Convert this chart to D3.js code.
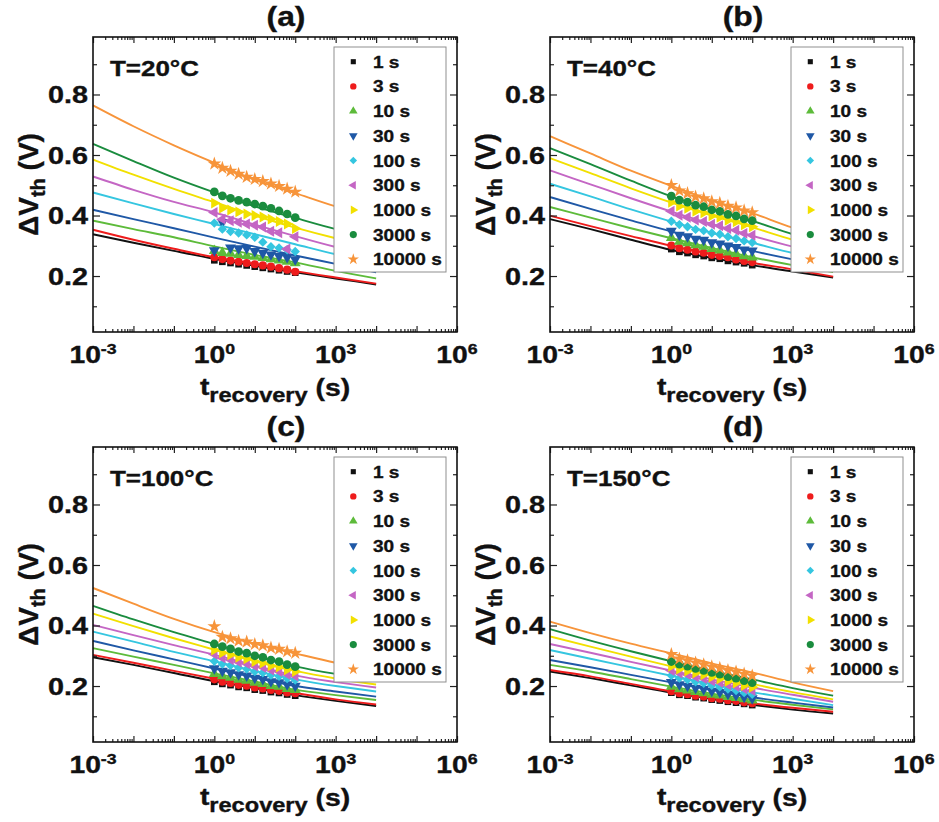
<!DOCTYPE html>
<html>
<head>
<meta charset="utf-8">
<script src="https://cdn.jsdelivr.net/npm/d3@7"></script>
<style>
  body { margin: 0; background: #ffffff; }
  svg { display: block; }
  text { font-family: "Liberation Sans", Arial, sans-serif; font-weight: bold; fill: #111; stroke: #111; stroke-width: 0.35; }
</style>
</head>
<body>
<svg id="chart" width="939" height="822"></svg>
<script>
// ---- data -------------------------------------------------------------
const stressLabels = ["1 s", "3 s", "10 s", "30 s", "100 s", "300 s", "1000 s", "3000 s", "10000 s"];
const panelTags = ["(a)", "(b)", "(c)", "(d)"];
const panelTemps = ["T=20°C", "T=40°C", "T=100°C", "T=150°C"];
const xTickExps = [-3, 0, 3, 6];
const yTickValues = [0.2, 0.4, 0.6, 0.8];

// recovery times of the fitted curves and of the measured points (s)
const fitTimes = [1e-3, 1e-2, 1e-1, 1, 1e1, 1e2, 1e3, 1e4];
const measTimes = [1, 1.58, 2.51, 3.98, 6.31, 10, 15.8, 25.1, 39.8, 63.1, 100];

// T = 20 °C
const fit20 = [
  [0.338, 0.310, 0.283, 0.257, 0.234, 0.212, 0.192, 0.172],
  [0.353, 0.320, 0.290, 0.262, 0.240, 0.216, 0.195, 0.175],
  [0.383, 0.355, 0.328, 0.298, 0.270, 0.245, 0.217, 0.192],
  [0.419, 0.388, 0.358, 0.327, 0.297, 0.268, 0.240, 0.212],
  [0.476, 0.440, 0.405, 0.372, 0.338, 0.305, 0.272, 0.245],
  [0.529, 0.485, 0.445, 0.410, 0.370, 0.332, 0.296, 0.265],
  [0.585, 0.535, 0.488, 0.444, 0.400, 0.360, 0.325, 0.295],
  [0.637, 0.580, 0.525, 0.476, 0.430, 0.392, 0.355, 0.325],
  [0.764, 0.695, 0.632, 0.574, 0.518, 0.474, 0.430, 0.395]
];
const meas20 = [
  [0.252, 0.247, 0.243, 0.239, 0.235, 0.231, 0.227, 0.223, 0.219, 0.215, 0.211],
  [0.262, 0.256, 0.251, 0.247, 0.243, 0.239, 0.235, 0.231, 0.226, 0.221, 0.214],
  [0.283, 0.277, 0.274, 0.270, 0.267, 0.264, 0.260, 0.256, 0.252, 0.248, 0.243],
  [0.285, 0.378, 0.294, 0.291, 0.292, 0.282, 0.276, 0.271, 0.266, 0.262, 0.255],
  [0.375, 0.355, 0.347, 0.342, 0.336, 0.328, 0.312, 0.297, 0.293, 0.287, 0.281],
  [0.410, 0.388, 0.383, 0.378, 0.372, 0.368, 0.362, 0.348, 0.343, 0.289, 0.330],
  [0.441, 0.425, 0.418, 0.412, 0.405, 0.400, 0.395, 0.388, 0.380, 0.372, 0.357],
  [0.478, 0.465, 0.457, 0.450, 0.444, 0.438, 0.431, 0.424, 0.415, 0.405, 0.393],
  [0.571, 0.557, 0.547, 0.537, 0.527, 0.520, 0.513, 0.505, 0.497, 0.488, 0.478]
];

// T = 40 °C
const fit40 = [
  [0.388, 0.355, 0.320, 0.286, 0.260, 0.236, 0.215, 0.195],
  [0.399, 0.365, 0.332, 0.300, 0.272, 0.244, 0.222, 0.198],
  [0.428, 0.393, 0.358, 0.325, 0.293, 0.262, 0.236, 0.213],
  [0.461, 0.422, 0.384, 0.347, 0.315, 0.283, 0.255, 0.230],
  [0.505, 0.463, 0.420, 0.380, 0.343, 0.310, 0.276, 0.247],
  [0.549, 0.503, 0.457, 0.413, 0.372, 0.333, 0.297, 0.265],
  [0.590, 0.540, 0.490, 0.443, 0.400, 0.361, 0.320, 0.287],
  [0.623, 0.570, 0.515, 0.463, 0.420, 0.382, 0.338, 0.303],
  [0.662, 0.605, 0.548, 0.498, 0.450, 0.408, 0.360, 0.325]
];
const meas40 = [
  [0.289, 0.280, 0.276, 0.270, 0.266, 0.260, 0.257, 0.250, 0.246, 0.242, 0.236],
  [0.301, 0.292, 0.287, 0.281, 0.277, 0.270, 0.266, 0.262, 0.255, 0.250, 0.246],
  [0.326, 0.314, 0.309, 0.302, 0.297, 0.290, 0.285, 0.278, 0.273, 0.266, 0.262],
  [0.349, 0.336, 0.331, 0.323, 0.319, 0.311, 0.307, 0.300, 0.295, 0.287, 0.284],
  [0.381, 0.370, 0.363, 0.354, 0.350, 0.342, 0.338, 0.330, 0.324, 0.316, 0.311],
  [0.414, 0.401, 0.394, 0.385, 0.380, 0.371, 0.366, 0.357, 0.351, 0.341, 0.335],
  [0.444, 0.431, 0.424, 0.414, 0.409, 0.399, 0.394, 0.384, 0.379, 0.369, 0.363],
  [0.464, 0.451, 0.444, 0.434, 0.429, 0.419, 0.414, 0.404, 0.399, 0.389, 0.383],
  [0.500, 0.482, 0.473, 0.462, 0.456, 0.446, 0.441, 0.431, 0.426, 0.416, 0.410]
];

// T = 100 °C
const fit100 = [
  [0.295, 0.270, 0.243, 0.216, 0.193, 0.170, 0.151, 0.134],
  [0.303, 0.277, 0.250, 0.224, 0.200, 0.177, 0.156, 0.139],
  [0.325, 0.297, 0.270, 0.242, 0.215, 0.188, 0.170, 0.154],
  [0.349, 0.318, 0.288, 0.258, 0.228, 0.200, 0.182, 0.165],
  [0.380, 0.347, 0.313, 0.282, 0.250, 0.222, 0.200, 0.182],
  [0.402, 0.368, 0.335, 0.303, 0.268, 0.235, 0.213, 0.195],
  [0.439, 0.398, 0.358, 0.320, 0.282, 0.250, 0.225, 0.205],
  [0.465, 0.420, 0.378, 0.339, 0.300, 0.265, 0.240, 0.220],
  [0.524, 0.472, 0.422, 0.378, 0.340, 0.308, 0.277, 0.250]
];
const meas100 = [
  [0.214, 0.207, 0.203, 0.197, 0.194, 0.188, 0.185, 0.180, 0.177, 0.172, 0.168],
  [0.222, 0.214, 0.210, 0.204, 0.201, 0.195, 0.192, 0.187, 0.184, 0.179, 0.176],
  [0.240, 0.233, 0.228, 0.221, 0.218, 0.211, 0.207, 0.201, 0.198, 0.191, 0.187],
  [0.258, 0.250, 0.245, 0.238, 0.234, 0.227, 0.223, 0.215, 0.212, 0.205, 0.200],
  [0.282, 0.273, 0.268, 0.260, 0.256, 0.248, 0.244, 0.236, 0.232, 0.225, 0.220],
  [0.305, 0.293, 0.287, 0.279, 0.274, 0.266, 0.262, 0.253, 0.248, 0.239, 0.233],
  [0.319, 0.310, 0.303, 0.295, 0.290, 0.281, 0.276, 0.267, 0.263, 0.254, 0.248],
  [0.339, 0.330, 0.323, 0.314, 0.309, 0.300, 0.295, 0.286, 0.281, 0.271, 0.264],
  [0.397, 0.362, 0.357, 0.349, 0.346, 0.338, 0.334, 0.326, 0.322, 0.314, 0.309]
];

// T = 150 °C
const fit150 = [
  [0.248, 0.226, 0.202, 0.178, 0.157, 0.138, 0.122, 0.109],
  [0.253, 0.232, 0.207, 0.182, 0.162, 0.143, 0.128, 0.115],
  [0.270, 0.248, 0.223, 0.198, 0.175, 0.155, 0.138, 0.123],
  [0.286, 0.262, 0.237, 0.212, 0.187, 0.163, 0.145, 0.129],
  [0.319, 0.290, 0.262, 0.234, 0.206, 0.180, 0.158, 0.137],
  [0.339, 0.310, 0.280, 0.251, 0.222, 0.195, 0.171, 0.148],
  [0.364, 0.330, 0.297, 0.265, 0.235, 0.207, 0.180, 0.156],
  [0.388, 0.350, 0.315, 0.282, 0.250, 0.222, 0.193, 0.168],
  [0.413, 0.375, 0.340, 0.308, 0.275, 0.245, 0.212, 0.183]
];
const meas150 = [
  [0.178, 0.171, 0.168, 0.163, 0.160, 0.155, 0.152, 0.148, 0.145, 0.141, 0.137],
  [0.183, 0.176, 0.173, 0.168, 0.165, 0.160, 0.158, 0.153, 0.151, 0.146, 0.143],
  [0.198, 0.190, 0.186, 0.181, 0.177, 0.172, 0.169, 0.164, 0.161, 0.157, 0.153],
  [0.213, 0.205, 0.200, 0.194, 0.190, 0.184, 0.180, 0.174, 0.170, 0.164, 0.159],
  [0.235, 0.226, 0.221, 0.214, 0.209, 0.202, 0.197, 0.190, 0.185, 0.178, 0.173],
  [0.251, 0.243, 0.238, 0.231, 0.225, 0.217, 0.212, 0.204, 0.199, 0.191, 0.185],
  [0.265, 0.256, 0.250, 0.243, 0.237, 0.230, 0.224, 0.216, 0.210, 0.202, 0.196],
  [0.281, 0.272, 0.266, 0.258, 0.252, 0.245, 0.239, 0.231, 0.226, 0.218, 0.211],
  [0.305, 0.290, 0.284, 0.277, 0.271, 0.264, 0.259, 0.252, 0.247, 0.240, 0.234]
];

const fitSets = [fit20, fit40, fit100, fit150];
const measSets = [meas20, meas40, meas100, meas150];

// ---- styling ----------------------------------------------------------
const seriesColors = ["#111111", "#ee1c1c", "#5dbb3a", "#1f58a6", "#35c6e0",
                      "#c466c4", "#f2e000", "#1a8c3e", "#f7943a"];
const markerShapes = ["square", "circle", "triUp", "triDown", "diamond",
                      "triLeft", "triRight", "circle", "star"];
const plotSizes   = [44, 52, 52, 52, 44, 52, 52, 60, 60];
const legendSizes = [26, 32, 32, 32, 28, 32, 32, 40, 40];

const W = 364, H = 295;
const panelOrigins = [[93, 37], [550, 37], [93, 447], [550, 447]];
const STRETCH = 1.18;

const svg = d3.select("#chart");

function markerPath(shape, size) {
  const tri = d3.symbol(d3.symbolTriangle, size)();
  switch (shape) {
    case "square":  return { d: d3.symbol(d3.symbolSquare, size)(), rot: 0 };
    case "circle":  return { d: d3.symbol(d3.symbolCircle, size)(), rot: 0 };
    case "triUp":   return { d: tri, rot: 0 };
    case "triDown": return { d: tri, rot: 180 };
    case "triLeft": return { d: tri, rot: -90 };
    case "triRight":return { d: tri, rot: 90 };
    case "diamond": return { d: d3.symbol(d3.symbolSquare, size)(), rot: 45 };
    case "star":    return { d: d3.symbol(d3.symbolStar, size)(), rot: 0 };
  }
}

function stretchedText(g, x, y, k) {
  return g.append("text").attr("transform", `translate(${x},${y}) scale(${k},1)`);
}

panelOrigins.forEach(([x0, y0], p) => {
  const g = svg.append("g");
  const x = d3.scaleLog().domain([1e-3, 1e6]).range([x0, x0 + W]);
  const y = d3.scaleLinear().domain([0.015, 0.99]).range([y0 + H, y0]);

  // fitted curves
  const line = d3.line()
    .x(d => x(d[0]))
    .y(d => y(d[1]))
    .curve(d3.curveMonotoneX);
  fitSets[p].forEach((vals, i) => {
    g.append("path")
      .datum(fitTimes.map((t, j) => [t, vals[j]]))
      .attr("d", line)
      .attr("fill", "none")
      .attr("stroke", seriesColors[i])
      .attr("stroke-width", 1.9);
  });

  // measured points
  measSets[p].forEach((vals, i) => {
    const m = markerPath(markerShapes[i], plotSizes[i]);
    g.append("g").selectAll("path")
      .data(measTimes.map((t, j) => [t, vals[j]]))
      .join("path")
      .attr("d", m.d)
      .attr("transform", d => `translate(${x(d[0])},${y(d[1])}) rotate(${m.rot})`)
      .attr("fill", seriesColors[i]);
  });

  // axes on all four sides, ticks pointing inward
  const xMajor = d3.range(-3, 7).map(e => Math.pow(10, e));
  const xMinor = [];
  for (let e = -3; e < 6; e++) for (let m = 2; m <= 9; m++) xMinor.push(m * Math.pow(10, e));

  g.append("g").attr("transform", `translate(0,${y0 + H})`)
    .call(d3.axisBottom(x).tickValues(xMajor).tickSize(-6).tickFormat(""));
  g.append("g").attr("transform", `translate(0,${y0 + H})`)
    .call(d3.axisBottom(x).tickValues(xMinor).tickSize(-3).tickFormat(""));
  g.append("g").attr("transform", `translate(0,${y0})`)
    .call(d3.axisTop(x).tickValues(xMajor).tickSize(-6).tickFormat(""));
  g.append("g").attr("transform", `translate(0,${y0})`)
    .call(d3.axisTop(x).tickValues(xMinor).tickSize(-3).tickFormat(""));

  const yMinor = [0.1, 0.3, 0.5, 0.7, 0.9];
  g.append("g").attr("transform", `translate(${x0},0)`)
    .call(d3.axisLeft(y).tickValues(yTickValues).tickSize(-7).tickFormat(""));
  g.append("g").attr("transform", `translate(${x0},0)`)
    .call(d3.axisLeft(y).tickValues(yMinor).tickSize(-4).tickFormat(""));
  g.append("g").attr("transform", `translate(${x0 + W},0)`)
    .call(d3.axisRight(y).tickValues(yTickValues).tickSize(-7).tickFormat(""));
  g.append("g").attr("transform", `translate(${x0 + W},0)`)
    .call(d3.axisRight(y).tickValues(yMinor).tickSize(-4).tickFormat(""));

  g.selectAll(".domain").remove();
  g.selectAll(".tick line").attr("stroke", "#222").attr("stroke-width", 1.2);

  g.append("rect")
    .attr("x", x0).attr("y", y0).attr("width", W).attr("height", H)
    .attr("fill", "none").attr("stroke", "#111").attr("stroke-width", 1.6);

  // tick labels
  yTickValues.forEach(v => {
    stretchedText(g, x0 - 5, y(v) + 8.5, 1.2)
      .attr("text-anchor", "end").attr("font-size", 24)
      .text(d3.format(".1f")(v));
  });
  xTickExps.forEach(e => {
    const t = stretchedText(g, x(Math.pow(10, e)), y0 + H + 31, STRETCH)
      .attr("text-anchor", "middle").attr("font-size", 24);
    t.append("tspan").text("10");
    t.append("tspan").attr("font-size", 15).attr("dy", -9).text(String(e));
  });

  // axis titles
  const xt = stretchedText(g, x0 + 182, y0 + H + 63, STRETCH)
    .attr("text-anchor", "middle").attr("font-size", 24);
  xt.append("tspan").text("t");
  xt.append("tspan").attr("font-size", 20).attr("dy", 7).text("recovery");
  xt.append("tspan").attr("dy", -6).text(" (s)");

  const yt = g.append("text")
    .attr("transform", `translate(${x0 - 55},${y0 + H / 2}) rotate(-90)`)
    .attr("text-anchor", "middle").attr("font-size", 28);
  yt.append("tspan").text("ΔV");
  yt.append("tspan").attr("font-size", 20).attr("dy", 7).text("th");
  yt.append("tspan").attr("dy", -7).text(" (V)");

  // panel tag and temperature
  stretchedText(g, x0 + 193, y0 - 11, STRETCH)
    .attr("text-anchor", "middle").attr("font-size", 27).text(panelTags[p]);
  stretchedText(g, x0 + 17, y0 + 39, STRETCH)
    .attr("font-size", 22).text(panelTemps[p]);

  // legend
  const lg = g.append("g");
  lg.append("rect")
    .attr("x", x0 + 241).attr("y", y0 + 10).attr("width", 112).attr("height", 225)
    .attr("fill", "#fff").attr("stroke", "#8f8f8f").attr("stroke-width", 1);
  stressLabels.forEach((lab, i) => {
    const ry = y0 + 24.7 + i * 24.7;
    const m = markerPath(markerShapes[i], legendSizes[i]);
    lg.append("path").attr("d", m.d)
      .attr("transform", `translate(${x0 + 260.3},${ry}) rotate(${m.rot})`)
      .attr("fill", seriesColors[i]);
    stretchedText(lg, x0 + 280, ry + 6, 1.12)
      .attr("font-size", 17).text(lab);
  });
});
</script>
</body>
</html>
